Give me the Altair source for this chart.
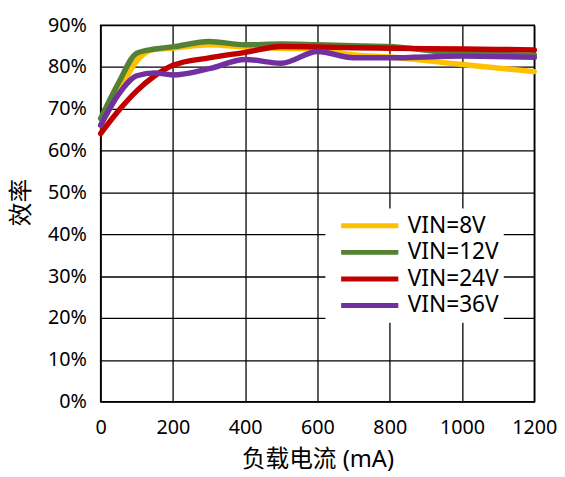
import altair as alt
import pandas as pd

# ---- data ----
x_ma = [0, 50, 100, 150, 200, 300, 400, 500, 600, 700, 800, 1000, 1200]
vin8 = [66.0, 74.0, 81.5, 84.2, 84.5, 85.3, 84.8, 84.5, 84.3, 82.9, 82.4, 80.6, 78.9]
vin12 = [67.7, 76.3, 83.3, 84.3, 84.8, 86.1, 85.3, 85.5, 85.3, 85.1, 84.9, 83.2, 82.9]
vin24 = [64.1, 69.6, 74.3, 77.9, 80.4, 82.2, 83.5, 84.9, 84.8, 84.6, 84.5, 84.3, 84.1]
vin36 = [66.1, 73.5, 77.9, 78.6, 78.1, 79.6, 81.8, 80.9, 83.7, 82.2, 82.2, 82.6, 82.3]

series_names = ["VIN=8V", "VIN=12V", "VIN=24V", "VIN=36V"]
series_colors = ["#FFC000", "#548235", "#C00000", "#7030A0"]
x_ticks = [0, 200, 400, 600, 800, 1000, 1200]
y_ticks = [0, 10, 20, 30, 40, 50, 60, 70, 80, 90]

rows = []
for name, vals in zip(series_names, [vin8, vin12, vin24, vin36]):
    for xv, yv in zip(x_ma, vals):
        rows.append({"x": xv, "y": yv, "s": name})
df = pd.DataFrame(rows)

font = "'Noto Sans', 'Noto Sans CJK SC', sans-serif"

chart = alt.Chart(df).mark_line(
    strokeWidth=5.5, interpolate="monotone", strokeCap="round", strokeJoin="round"
).encode(
    x=alt.X("x:Q",
            scale=alt.Scale(domain=[0, 1200], nice=False, zero=False),
            axis=alt.Axis(values=x_ticks, format="d", title="负载电流 (mA)", labelPadding=16.5,
                          labelFontSize=20, titleFontSize=24, titleY=59,
                          titleBaseline="middle", labelFlush=False, labelOverlap=False)),
    y=alt.Y("y:Q",
            scale=alt.Scale(domain=[0, 90], nice=False),
            axis=alt.Axis(values=y_ticks, labelExpr="datum.value + '%'", title="效率",
                          labelPadding=14.5, labelFontSize=20, titleFontSize=24,
                          titleX=-80, titleY=179.5, titleAngle=270,
                          titleBaseline="middle", titleAlign="center", labelOverlap=False)),
    color=alt.Color("s:N",
                    scale=alt.Scale(domain=series_names, range=series_colors),
                    legend=alt.Legend(title=None, orient="none", legendX=228, legendY=186,
                                      fillColor="white", padding=5, rowPadding=2,
                                      symbolType="M-3,0H3", symbolSize=374,
                                      symbolStrokeWidth=5, symbolOffset=27.5,
                                      labelOffset=26, labelFontSize=23, labelFont=font,
                                      labelColor="black")),
).properties(
    width=440, height=382,
    autosize=alt.AutoSizeParams(type="none"),
    padding={"left": 94, "top": 14, "right": 23, "bottom": 73},
).configure_view(
    stroke="black", strokeWidth=1.5
).configure_axis(
    gridColor="black", gridWidth=1.3, gridOpacity=1, domain=False, ticks=False,
    tickSize=0, labelColor="black", titleColor="black", labelFont=font,
    titleFont=font, titleFontWeight="normal"
)

chart.save("out.html", embed_options={"renderer": "svg", "actions": False})
